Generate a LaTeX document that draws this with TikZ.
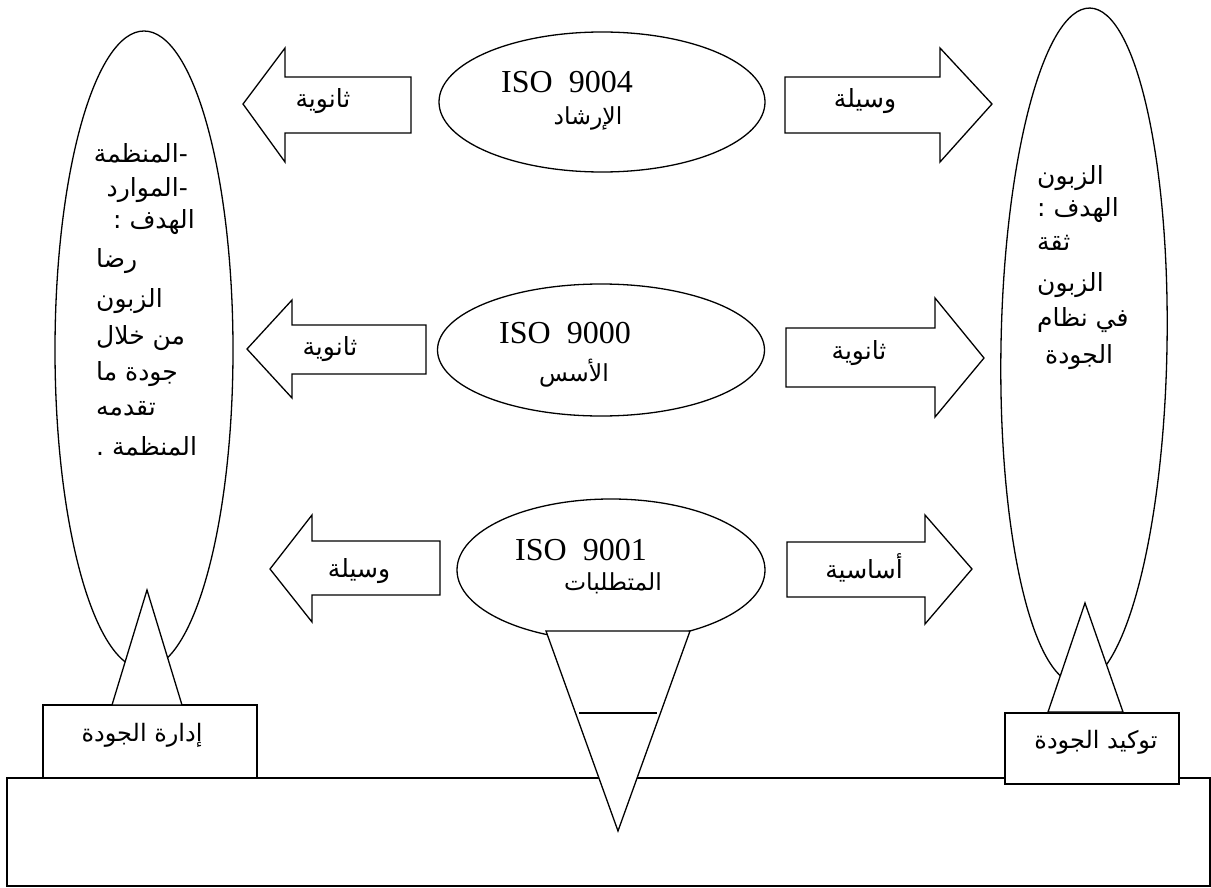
\documentclass[tikz,border=0pt]{standalone}
\usepackage{fontspec}
\setmainfont{Liberation Serif}
\newfontfamily\arabicfont[Script=Arabic]{DejaVu Sans}
\TeXXeTstate=1
\usetikzlibrary{shapes.geometric}
\newcommand{\artxt}[1]{\beginR #1\endR}
\begin{document}
\begin{tikzpicture}[x=1pt,y=-1pt,
  ln/.style={draw=black,line width=1.3pt,line join=miter},
  wf/.style={ln,fill=white},
  lbl/.style={font=\arabicfont\fontsize{25}{29}\selectfont,inner sep=0pt},
  blbl/.style={font=\arabicfont\fontsize{24}{28}\selectfont,inner sep=0pt},
  elbl/.style={font=\arabicfont\fontsize{25}{29}\selectfont,inner sep=0pt,anchor=west},
  isolbl/.style={font=\fontsize{32}{36}\selectfont,inner sep=0pt},
  isoar/.style={font=\arabicfont\fontsize{23.5}{27}\selectfont,inner sep=0pt},
  ell/.style={ellipse,ln,inner sep=0pt}]
\useasboundingbox (0,0) rectangle (1211,888);
% base
\draw[ln] (7,778) rectangle (1210,886);
% boxes
\node[wf,rectangle,minimum width=214pt,minimum height=73pt,inner sep=0pt] (bqm) at (150,741.5) {};
\node[wf,rectangle,minimum width=174pt,minimum height=71pt,inner sep=0pt] (bqa) at (1092,748.5) {};
\node[blbl] (tqm) at (142,735) {\artxt{إدارة الجودة}};
\node[blbl] (tqa) at (1096,742) {\artxt{توكيد الجودة}};
% tall ellipses
\node[ell,minimum width=178pt,minimum height=638pt] (eleft) at (144,350) {};
\node[ell,minimum width=166pt,minimum height=676pt,rotate=-1] (eright) at (1084,346) {};
% triangles
\draw[wf] (147,590) -- (182,705) -- (112,705) -- cycle;
\draw[wf] (1085,603) -- (1123,712) -- (1048,712) -- cycle;
% middle ellipses
\node[ell,minimum width=326pt,minimum height=140pt] (e9004) at (602,102) {};
\node[ell,minimum width=327pt,minimum height=132pt] (e9000) at (601,350) {};
\node[ell,minimum width=308pt,minimum height=142pt] (e9001) at (611,570) {};
% inverted triangle
\draw[wf] (546,631) -- (690,631) -- (618,831) -- cycle;
\draw[ln] (579,713) -- (657,713);
% arrows
\draw[ln] (411,77) -- (285,77) -- (285,48) -- (243,104) -- (285,162) -- (285,133) -- (411,133) -- cycle;
\draw[ln] (785,77) -- (940,77) -- (940,48) -- (992,104) -- (940,162) -- (940,133) -- (785,133) -- cycle;
\draw[ln] (426,325) -- (292,325) -- (292,300) -- (247,349) -- (292,398) -- (292,374) -- (426,374) -- cycle;
\draw[ln] (786,328) -- (935,328) -- (935,298) -- (984,358) -- (935,417) -- (935,387) -- (786,387) -- cycle;
\draw[ln] (440,541) -- (312,541) -- (312,515) -- (270,569) -- (312,622) -- (312,595) -- (440,595) -- cycle;
\draw[ln] (787,542) -- (925,542) -- (925,515) -- (972,569) -- (925,624) -- (925,597) -- (787,597) -- cycle;
% arrow labels
\node[lbl] (a1) at (323,101) {\artxt{ثانوية}};
\node[lbl] (a2) at (865,101) {\artxt{وسيلة}};
\node[lbl] (a3) at (330,349) {\artxt{ثانوية}};
\node[lbl] (a4) at (859,353) {\artxt{ثانوية}};
\node[lbl] (a5) at (359,571) {\artxt{وسيلة}};
\node[lbl] (a6) at (864,568) {\artxt{أساسية}};
% ISO texts
\node[isolbl] (i1) at (567,82) {ISO~~9004};
\node[isoar] (i1a) at (588,118) {\artxt{الإرشاد}};
\node[isolbl] (i2) at (565,333) {ISO~~9000};
\node[isoar] (i2a) at (574,373) {\artxt{الأسس}};
\node[isolbl] (i3) at (581,550) {ISO~~9001};
\node[isoar] (i3a) at (613,583) {\artxt{المتطلبات}};
% left ellipse text
\node[elbl,anchor=east] (l1) at (188,153) {\artxt{المنظمة}-};
\node[elbl,anchor=east] (l2) at (188,190) {\artxt{الموارد}-};
\node[elbl] (l3) at (113,222) {:\ \artxt{الهدف}};
\node[elbl] (l4) at (96,261) {\artxt{رضا}};
\node[elbl] (l5) at (96,301) {\artxt{الزبون}};
\node[elbl] (l6) at (96,338) {\artxt{من خلال}};
\node[elbl] (l7) at (96,374) {\artxt{جودة ما}};
\node[elbl] (l8) at (96,409) {\artxt{تقدمه}};
\node[elbl] (l9) at (96,446) {.\ \artxt{المنظمة}};
% right ellipse text
\node[elbl] (r1) at (1037,178) {\artxt{الزبون}};
\node[elbl] (r2) at (1037,210) {:\ \artxt{الهدف}};
\node[elbl] (r3) at (1037,243) {\artxt{ثقة}};
\node[elbl] (r4) at (1037,285) {\artxt{الزبون}};
\node[elbl] (r5) at (1037,320) {\artxt{في نظام}};
\node[elbl] (r6) at (1045,357) {\artxt{الجودة}};
\end{tikzpicture}
\end{document}
